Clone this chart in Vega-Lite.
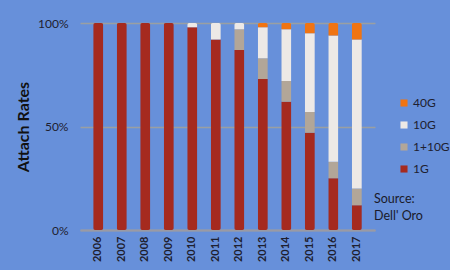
{
  "$schema": "https://vega.github.io/schema/vega-lite/v6.json",
  "width": 295,
  "height": 207,
  "padding": {"left": 80, "top": 23, "right": 75, "bottom": 40},
  "autosize": {"type": "none"},
  "background": "#6790da",
  "config": {
    "view": {"stroke": null},
    "font": "Lato",
    "axis": {"labelFont": "Lato", "titleFont": "Lato"}
  },
  "title": {
    "text": ["Source:", "Dell' Oro"],
    "orient": "top",
    "anchor": "start",
    "frame": "group",
    "font": "Lato",
    "fontSize": 12.5,
    "fontWeight": "normal",
    "color": "#1a1a2a",
    "lineHeight": 17,
    "offset": 0,
    "dx": 294,
    "dy": 205
  },
  "data": {
    "values": [
      {"year": "2006", "tech": "1G", "share": 100},
      {"year": "2007", "tech": "1G", "share": 100},
      {"year": "2008", "tech": "1G", "share": 100},
      {"year": "2009", "tech": "1G", "share": 100},
      {"year": "2010", "tech": "1G", "share": 98},
      {"year": "2010", "tech": "10G", "share": 2},
      {"year": "2011", "tech": "1G", "share": 92},
      {"year": "2011", "tech": "10G", "share": 8},
      {"year": "2012", "tech": "1G", "share": 87},
      {"year": "2012", "tech": "1+10G", "share": 10},
      {"year": "2012", "tech": "10G", "share": 3},
      {"year": "2013", "tech": "1G", "share": 73},
      {"year": "2013", "tech": "1+10G", "share": 10},
      {"year": "2013", "tech": "10G", "share": 15},
      {"year": "2013", "tech": "40G", "share": 2},
      {"year": "2014", "tech": "1G", "share": 62},
      {"year": "2014", "tech": "1+10G", "share": 10},
      {"year": "2014", "tech": "10G", "share": 25},
      {"year": "2014", "tech": "40G", "share": 3},
      {"year": "2015", "tech": "1G", "share": 47},
      {"year": "2015", "tech": "1+10G", "share": 10},
      {"year": "2015", "tech": "10G", "share": 38},
      {"year": "2015", "tech": "40G", "share": 5},
      {"year": "2016", "tech": "1G", "share": 25},
      {"year": "2016", "tech": "1+10G", "share": 8},
      {"year": "2016", "tech": "10G", "share": 61},
      {"year": "2016", "tech": "40G", "share": 6},
      {"year": "2017", "tech": "1G", "share": 12},
      {"year": "2017", "tech": "1+10G", "share": 8},
      {"year": "2017", "tech": "10G", "share": 72},
      {"year": "2017", "tech": "40G", "share": 8}
    ]
  },
  "transform": [
    {"calculate": "indexof(['1G','1+10G','10G','40G'], datum.tech)", "as": "k"}
  ],
  "mark": {"type": "bar", "cornerRadius": 2},
  "encoding": {
    "x": {
      "field": "year",
      "type": "ordinal",
      "scale": {"paddingInner": 0.57, "paddingOuter": 0.56},
      "axis": {
        "title": null,
        "labelAngle": -90,
        "labelFontSize": 11,
        "labelFontWeight": "bold",
        "labelColor": "#1e2030",
        "ticks": false,
        "domain": true,
        "domainColor": "#9a9aa4",
        "domainWidth": 2,
        "labelPadding": 6
      }
    },
    "y": {
      "field": "share",
      "type": "quantitative",
      "stack": "zero",
      "scale": {"domain": [0, 100]},
      "axis": {
        "title": "Attach Rates",
        "titleFontSize": 16,
        "titleFontWeight": "bold",
        "titleColor": "#111111",
        "titlePadding": 6,
        "values": [0, 50, 100],
        "labelExpr": "datum.value + '%'",
        "labelFontSize": 12,
        "labelColor": "#1e2030",
        "labelPadding": 12,
        "ticks": false,
        "domain": false,
        "grid": true,
        "gridColor": "#a8a294",
        "gridWidth": 1.5,
        "gridOpacity": 0.8
      }
    },
    "color": {
      "field": "tech",
      "type": "nominal",
      "scale": {
        "domain": ["1G", "1+10G", "10G", "40G"],
        "range": ["#a52a1f", "#b2a698", "#ede9e6", "#f07412"]
      },
      "legend": {
        "title": null,
        "orient": "none",
        "legendX": 318,
        "legendY": 74,
        "values": ["40G", "10G", "1+10G", "1G"],
        "symbolType": "square",
        "symbolSize": 50,
        "symbolStrokeWidth": 0,
        "labelFontSize": 12,
        "labelColor": "#1e2030",
        "rowPadding": 10,
        "labelOffset": 3
      }
    },
    "order": {"field": "k", "type": "quantitative", "sort": "ascending"}
  }
}
